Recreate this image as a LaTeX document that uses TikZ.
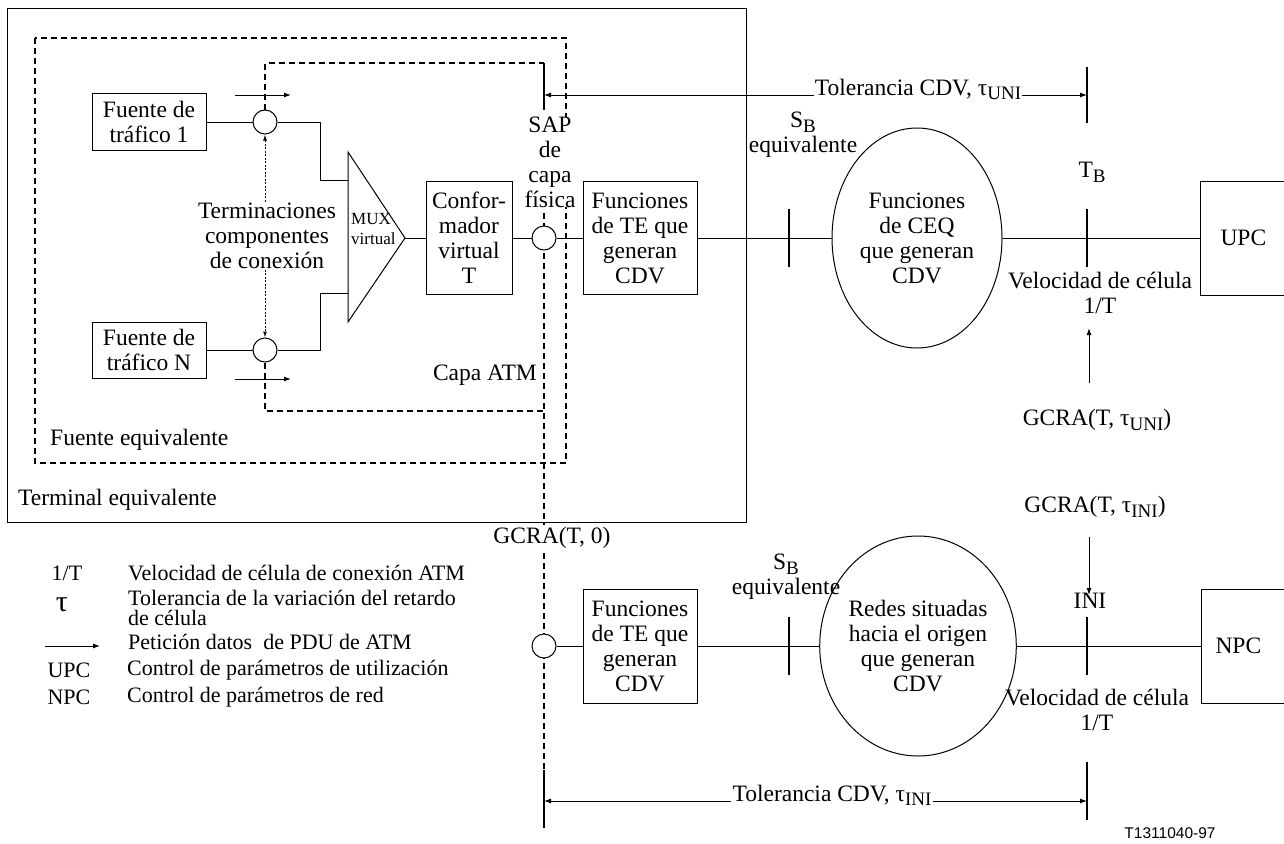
\documentclass[tikz,border=0pt]{standalone}
\usepackage{fontspec}
\setmainfont{Liberation Serif}
\newfontfamily\figsans{Liberation Sans}
\usepackage{tikz}
\usetikzlibrary{positioning, arrows.meta, shapes.geometric, calc}
\newcommand{\lowsub}[1]{\raisebox{-0.45ex}{\fontsize{19}{19}\selectfont #1}}
\tikzset{
  blk/.style={draw, line width=1pt, align=center, inner sep=0pt},
  tap/.style={draw, circle, fill=white, line width=1pt, minimum size=24pt, inner sep=0pt},
  oval/.style={draw, ellipse, line width=1pt, minimum width=170pt, minimum height=220pt, inner sep=0pt, align=center},
  bar/.style={line width=2.5pt},
  fence/.style={line width=2pt, dash pattern=on 6pt off 4pt},
  wire/.style={line width=1pt},
  tip/.style={-{Latex[length=7pt,width=5pt]}},
  txt/.style={align=center, inner sep=0pt},
}

\begin{document}
\begin{tikzpicture}[x=1pt, y=-1pt, font=\fontsize{23.5}{25}\selectfont]
  \useasboundingbox (0,0) rectangle (1284,843);

  % frames of the terminal and of the source
  \draw[wire] (7,9) rectangle (746,522);
  \draw[fence] (35,38) rectangle (566,463);

  \coordinate (sapTop) at (544,63);
  \coordinate (sapBot) at (544,110);
  \coordinate (physTop) at (544,213);
  \coordinate (atmCorner) at (544,411);
  \coordinate (lowTop) at (544,770);
  \coordinate (lowBot) at (544,828);
  \coordinate (uniTop) at (1087,67);
  \coordinate (uniBot) at (1087,123);
  \coordinate (iniEndTop) at (1087,762);
  \coordinate (iniEndBot) at (1087,820);
  \draw[fence] (physTop) -- (lowTop);

  % traffic sources and virtual MUX
  \node[blk, minimum width=114pt, minimum height=57pt] (src1) at (149,122) {Fuente de\\tráfico 1};
  \node[blk, minimum width=114pt, minimum height=56pt] (srcN) at (149,350) {Fuente de\\tráfico N};
  \node[tap] (c1) at (265,122) {};
  \node[tap] (cN) at (265,350) {};
  \draw[fence] (c1.north) |- (sapTop);
  \draw[fence] (cN.south) |- (atmCorner);

  \coordinate (muxtop) at (348,152);
  \coordinate (muxbot) at (348,322);
  \coordinate (muxout) at (405,238);
  \coordinate (mux1) at (348,180);
  \coordinate (mux2) at (348,293);
  \draw[wire] (muxtop) -- (muxout) -- (muxbot) -- cycle;
  \node[txt, anchor=west, align=left, font=\fontsize{17}{20}\selectfont] (muxlbl) at (351,229) {MUX\\virtual};

  \draw[wire] (src1) -- (c1);
  \draw[wire] (srcN) -- (cN);
  \draw[wire] (c1.east) -| ($(mux1)+(-28,0)$) -- (mux1);
  \draw[wire] (cN.east) -| ($(mux2)+(-28,0)$) -- (mux2);
  \draw[wire, tip] ($(c1)+(-30,-27)$) -- ++(56,0);
  \draw[wire, tip] ($(cN)+(-30,29)$) -- ++(56,0);

  \draw[line width=1pt, dash pattern=on 2pt off 1.5pt, {Latex[length=6pt,width=4pt]}-{Latex[length=6pt,width=4pt]}] (c1) -- (cN);
  \node[txt, fill=white] (term) at (267,236) {Terminaciones\\componentes\\de conexión};

  % upper chain towards the UPC
  \node[blk, minimum width=86pt, minimum height=113pt] (conf) at (469,238) {Confor-\\mador\\virtual\\T};
  \node[tap] (sap) at (544,238) {};
  \node[blk, minimum width=114pt, minimum height=113pt] (fte) at (640,238) {Funciones\\de TE que\\generan\\CDV};
  \node[oval] (ceq) at (917,238) {Funciones\\de CEQ\\que generan\\CDV};
  \node[blk, anchor=west, minimum height=114pt, text width=66pt, align=left, inner xsep=20pt] (upc) at (1200,238) {UPC};
  \draw[wire] (muxout) -- (conf);
  \draw[wire] (conf) -- (sap);
  \draw[wire] (sap) -- (fte);
  \draw[wire] (fte) -- (ceq);
  \draw[wire] (ceq) -- (upc);

  \node[txt, fill=white] (saplbl) at (550,162) {SAP\\de\\capa\\física};
  \node[txt, anchor=east] (atm) at (537,375) {Capa ATM};
  \node[txt, anchor=west] (feq) at (50,440) {Fuente equivalente};
  \node[txt, anchor=west] (teq) at (18,500) {Terminal equivalente};

  \draw[bar] (sapTop) -- (sapBot);
  \draw[bar] (uniTop) -- (uniBot);
  \node[txt, anchor=base, inner xsep=1pt] (tolU) at (918,95) {Tolerancia CDV, τ\lowsub{UNI}};
  \draw[wire, tip] (tolU.base west) -- (tolU.base west -| sapTop);
  \draw[wire, tip] (tolU.base east) -- (tolU.base east -| uniTop);

  \node[txt] (sbU) at (803,135) {S\lowsub{B}\\equivalente};
  \node[txt] (tb) at (1092,172) {T\lowsub{B}};
  \node[txt] (velU) at (1100,293) {Velocidad de célula\\1/T};
  \node[txt] (gcraU) at (1097,420) {GCRA(T, τ\lowsub{UNI})};
  \coordinate (gcraUtail) at (1089,383);
  \coordinate (gcraUhead) at (1089,328);
  \draw[wire, tip] (gcraUtail) -- (gcraUhead);

  % lower chain towards the NPC
  \node[txt, fill=white, inner ysep=2pt] (gcra0) at (552,538) {GCRA(T, 0)};
  \node[tap] (sapL) at (544,646) {};
  \node[blk, minimum width=114pt, minimum height=114pt] (fteL) at (640,646) {Funciones\\de TE que\\generan\\CDV};
  \node[oval] (redes) at (918,646) {Redes situadas\\hacia el origen\\que generan\\CDV};
  \node[blk, anchor=west, minimum height=114pt, text width=66pt, align=left, inner xsep=14pt] (npc) at (1201,646) {NPC};
  \draw[wire] (sapL) -- (fteL);
  \draw[wire] (fteL) -- (redes);
  \draw[wire] (redes) -- (npc);

  \node[txt] (sbL) at (786,577) {S\lowsub{B}\\equivalente};
  \node[txt] (ini) at (1090,601) {INI};
  \node[txt] (gcraL) at (1095,507) {GCRA(T, τ\lowsub{INI})};
  \coordinate (gcraLtail) at (1089,537);
  \coordinate (gcraLhead) at (1089,595);
  \draw[wire, tip] (gcraLtail) -- (gcraLhead);
  \node[txt] (velL) at (1097,710) {Velocidad de célula\\1/T};

  \foreach \bx/\by in {789/238, 1087/238, 789/646, 1087/646}
    \draw[bar] (\bx,\by-29) -- (\bx,\by+29);

  \draw[bar] (lowTop) -- (lowBot);
  \draw[bar] (iniEndTop) -- (iniEndBot);
  \node[txt, anchor=base, inner xsep=1pt] (tolL) at (832,801) {Tolerancia CDV, τ\lowsub{INI}};
  \draw[wire, tip] (tolL.base west) -- (tolL.base west -| lowTop);
  \draw[wire, tip] (tolL.base east) -- (tolL.base east -| iniEndTop);

  % legend
  \begin{scope}[font=\fontsize{22}{20}\selectfont]
    \node[txt] (k1) at (67,573) {1/T};
    \node[txt, font=\fontsize{30}{30}\selectfont] (k2) at (62,605) {τ};
    \node[txt, anchor=west] (v1) at (128,573) {Velocidad de célula de conexión ATM};
    \node[txt, anchor=west, align=left] (v2) at (128,608) {Tolerancia de la variación del retardo\\de célula};
    \coordinate (k3a) at (45,646);
    \coordinate (k3b) at (100,646);
    \draw[wire, tip] (k3a) -- (k3b);
    \node[txt, anchor=west] (v3) at (128,642) {Petición datos\ \ de PDU de ATM};
    \node[txt] (k4) at (69,670) {UPC};
    \node[txt, anchor=west] (v4) at (127,670) {Control de parámetros de utilización};
    \node[txt] (k5) at (69,697) {NPC};
    \node[txt, anchor=west] (v5) at (127,697) {Control de parámetros de red};
  \end{scope}

  \node[txt, font=\figsans\fontsize{15.5}{16}\selectfont] (code) at (1170,833) {T1311040-97};
\end{tikzpicture}
\end{document}
